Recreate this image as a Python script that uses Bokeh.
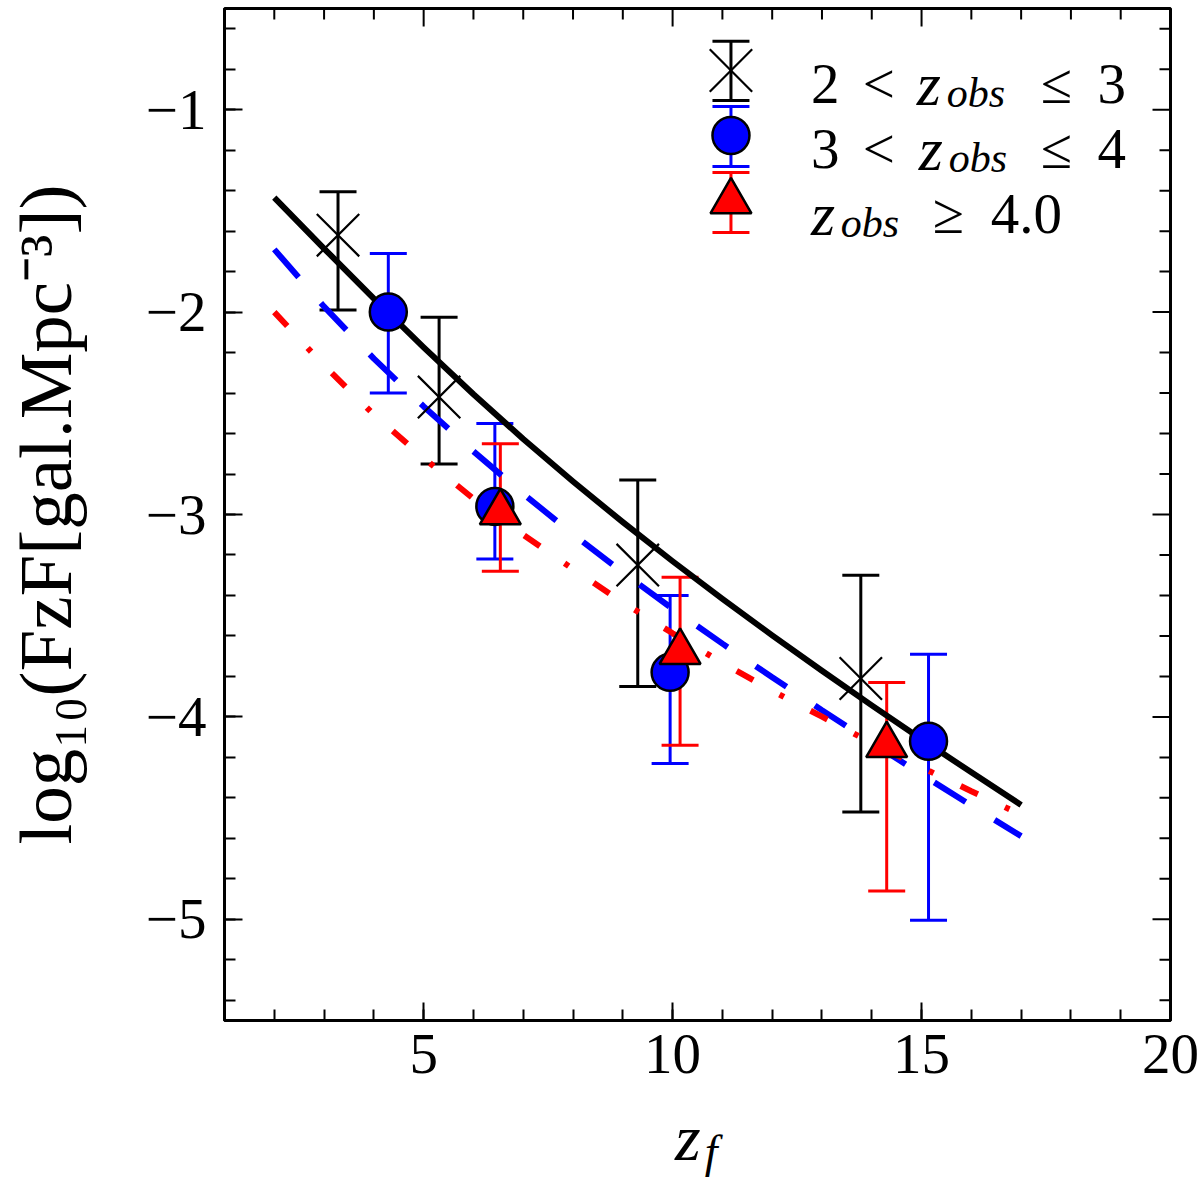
from bokeh.plotting import figure
from bokeh.layouts import column
from bokeh.models import (Range1d, LinearAxis, SingleIntervalTicker, Whisker,
                          TeeHead, ColumnDataSource, Label, Div)
from bokeh.embed import file_html
from bokeh.resources import INLINE

# ---------------- data ----------------
# 2 < z_obs <= 3  (black crosses)
zf_bin1 = [3.28, 5.31, 9.30, 13.78]
val_bin1 = [-1.62, -2.42, -3.25, -3.81]
lo_bin1 = [-1.99, -2.75, -3.85, -4.47]
hi_bin1 = [-1.405, -2.025, -2.83, -3.30]

# 3 < z_obs <= 4  (blue circles)
zf_bin2 = [4.29, 6.43, 9.95, 15.14]
val_bin2 = [-2.00, -2.96, -3.78, -4.12]
lo_bin2 = [-2.40, -3.22, -4.23, -5.005]
hi_bin2 = [-1.71, -2.55, -3.40, -3.69]

# z_obs >= 4.0  (red triangles)
zf_bin3 = [6.54, 10.15, 14.30]
val_bin3 = [-2.99, -3.68, -4.14]
lo_bin3 = [-3.28, -4.14, -4.86]
hi_bin3 = [-2.65, -3.31, -3.83]

# model curves
zf_model = [2, 3, 4, 5, 6, 7, 8, 9, 10, 11, 12, 13, 14, 15, 16, 17]
model_bin1 = [-1.434, -1.686, -1.933, -2.174, -2.406, -2.627, -2.837, -3.038,
              -3.231, -3.417, -3.597, -3.772, -3.943, -4.110, -4.274, -4.435]
model_bin2 = [-1.690, -1.973, -2.230, -2.466, -2.688, -2.898, -3.097, -3.286,
              -3.466, -3.638, -3.804, -3.967, -4.127, -4.284, -4.438, -4.589]
model_bin3 = [-2.000, -2.264, -2.506, -2.721, -2.922, -3.100, -3.270, -3.434,
              -3.587, -3.733, -3.871, -3.999, -4.129, -4.249, -4.367, -4.484]

x_ticks = [5, 10, 15, 20]
y_ticks = [-1, -2, -3, -4, -5]
y_tick_labels = ["\u22121", "\u22122", "\u22123", "\u22124", "\u22125"]

# legend: (left number, relation, variable, subscript, relation, right number)
legend_labels = [("2", "<", "z", "obs", "\u2264", "3"),
                 ("3", "<", "z", "obs", "\u2264", "4"),
                 ("", "", "z", "obs", "\u2265", "4.0")]

# ---------------- layout ----------------
X0, X1, Y0, Y1 = 1, 20, -5.5, -0.5
FL, FR, FT, FB = 223, 1170, 8, 1020   # frame edges in page pixels
W, H = 1200, 1105
SERIF = "Liberation Serif"


def dx(px):
    return X0 + (px - FL) / (FR - FL) * (X1 - X0)


def dy(py):
    return Y1 - (py - FT) / (FB - FT) * (Y1 - Y0)


XPX = (X1 - X0) / (FR - FL)   # data units per pixel
YPX = (Y1 - Y0) / (FB - FT)

p = figure(width=W, height=H, output_backend="svg", toolbar_location=None,
           x_range=Range1d(X0, X1), y_range=Range1d(Y0, Y1),
           min_border_left=FL, min_border_right=W - FR,
           min_border_top=FT, min_border_bottom=H - FB,
           x_axis_type=None, y_axis_type=None)
p.background_fill_color = "white"
p.border_fill_color = "white"
p.outline_line_color = "black"
p.outline_line_width = 3
p.xgrid.visible = False
p.ygrid.visible = False


def make_axis(ticker, overrides=None):
    ax = LinearAxis(ticker=ticker)
    ax.axis_line_width = 3
    ax.axis_line_color = "black"
    ax.major_tick_in = 18
    ax.major_tick_out = 0
    ax.minor_tick_in = 11
    ax.minor_tick_out = 0
    ax.major_tick_line_width = 2
    ax.minor_tick_line_width = 2
    ax.major_label_text_font = SERIF
    ax.major_label_text_font_size = "57px"
    ax.major_label_text_color = "black"
    if overrides:
        ax.major_label_overrides = overrides
    return ax


xb = make_axis(SingleIntervalTicker(interval=5, num_minor_ticks=5))
xb.major_label_standoff = 14
p.add_layout(xb, "below")

yl = make_axis(SingleIntervalTicker(interval=1, num_minor_ticks=5),
               {v: s for v, s in zip(y_ticks, y_tick_labels)})
yl.major_label_standoff = 18
yl.axis_label = "log\u2081\u2080(FzF[gal.Mpc\u207b\u00b3])"
yl.axis_label_text_font = SERIF
yl.axis_label_text_font_style = "normal"
yl.axis_label_text_font_size = "75px"
yl.axis_label_text_color = "black"
yl.axis_label_standoff = 56
p.add_layout(yl, "left")

# mirrored inward ticks on the top and right edges
minor_x = [v for v in range(2, 20) if v % 5]
minor_y = [round(-0.6 - 0.2 * i, 1) for i in range(25) if (i + 3) % 5]
for xs_, ln in ((x_ticks, 18), (minor_x, 11)):
    p.segment(x0=xs_, x1=xs_, y0=[Y1] * len(xs_), y1=[Y1 - ln * YPX] * len(xs_),
              line_color="black", line_width=2)
for ys_, ln in ((y_ticks, 18), (minor_y, 11)):
    p.segment(x0=[X1] * len(ys_), x1=[X1 - ln * XPX] * len(ys_), y0=ys_, y1=ys_,
              line_color="black", line_width=2)

# ---------------- model curves ----------------
p.line(zf_model, model_bin1, line_color="black", line_width=6, line_join="round")
p.line(zf_model, model_bin2, line_color="#0000ff", line_width=6, line_dash="37 34")
p.line(zf_model, model_bin3, line_color="#ff0000", line_width=6, line_dash="19 30 5 30")

# ---------------- data with error bars ----------------
series = [
    (zf_bin1, val_bin1, lo_bin1, hi_bin1, "black"),
    (zf_bin2, val_bin2, lo_bin2, hi_bin2, "#0000ff"),
    (zf_bin3, val_bin3, lo_bin3, hi_bin3, "#ff0000"),
]


def whisker(src, col):
    return Whisker(source=src, base="x", lower="lo", upper="hi",
                   line_color=col, line_width=3,
                   upper_head=TeeHead(size=37, line_color=col, line_width=3),
                   lower_head=TeeHead(size=37, line_color=col, line_width=3))


for xs, ys, lo, hi, col in series:
    p.add_layout(whisker(ColumnDataSource(dict(x=xs, y=ys, lo=lo, hi=hi)), col))

X_SIZE, C_SIZE, T_SIZE = 60, 37, 41
p.scatter(zf_bin1, val_bin1, marker="x", size=X_SIZE, line_color="black", line_width=2.2)
p.scatter(zf_bin2, val_bin2, marker="circle", size=C_SIZE, fill_color="#0000ff",
          line_color="black", line_width=2.5)
p.scatter(zf_bin3, val_bin3, marker="triangle", size=T_SIZE, fill_color="#ff0000",
          line_color="black", line_width=2.5)

# ---------------- legend (drawn by hand) ----------------
leg_x = dx(730)
leg_rows = [(40.7, 100, "black"), (106, 166, "#0000ff"), (172, 232, "#ff0000")]
for top, bot, col in leg_rows:
    p.add_layout(whisker(ColumnDataSource(dict(x=[leg_x], lo=[dy(bot)], hi=[dy(top)])), col))
p.scatter([leg_x], [dy(70)], marker="x", size=X_SIZE, line_color="black", line_width=2.2)
p.scatter([leg_x], [dy(135)], marker="circle", size=C_SIZE, fill_color="#0000ff",
          line_color="black", line_width=2.5)
p.scatter([leg_x], [dy(201)], marker="triangle", size=T_SIZE, fill_color="#ff0000",
          line_color="black", line_width=2.5)

row_base = [83, 148, 213]
# left pixel of each text piece in a legend row
piece_x = [(810, 862, 916, 946, 1040, 1097),
           (810, 862, 918, 948, 1040, 1097),
           (None, None, 810, 840, 932, 990)]
for labels, base, xs_row in zip(legend_labels, row_base, piece_x):
    num_a, rel_a, var, sub, rel_b, num_b = labels
    xa, xr, xz, xsb, xrb, xb_ = xs_row
    for txt, px, py, size, style in ((num_a, xa, base, "57px", "normal"),
                                     (rel_a, xr, base, "57px", "normal"),
                                     (var, xz, base, "62px", "italic"),
                                     (sub, xsb, base + 9, "42px", "italic"),
                                     (rel_b, xrb, base, "57px", "normal"),
                                     (num_b, xb_, base, "57px", "normal")):
        if txt:
            p.add_layout(Label(x=dx(px), y=dy(py), text=txt, text_font=SERIF,
                               text_font_style=style, text_font_size=size,
                               text_color="black", text_baseline="alphabetic"))

# x axis label z_f as real HTML text below the figure
xlabel = Div(
    text=("<div style=\"margin-left:670px; font-family:'Liberation Serif'; "
          "font-style:italic; font-size:66px; line-height:56px; color:#000; "
          "white-space:nowrap\">z<span style=\"font-size:46px; position:relative; "
          "top:7px; margin-left:4px\">f</span></div>"),
    width=W, height=78)

open("out.html", "w").write(file_html(column(p, xlabel, spacing=0), INLINE))
